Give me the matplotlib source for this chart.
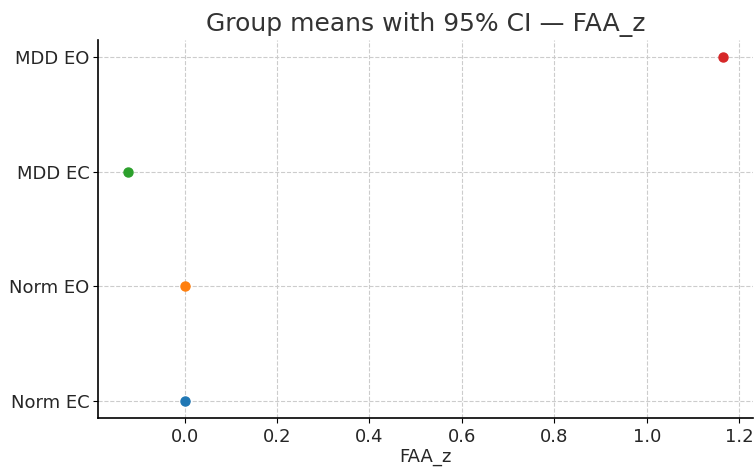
import matplotlib
matplotlib.use("Agg")
import matplotlib.pyplot as plt

# group means of FAA_z (CI half-widths are ~0, nothing visible)
groups = ["Norm EC", "Norm EO", "MDD EC", "MDD EO"]
means = [0.0, 0.0, -0.123, 1.166]
ci_half = [0.0, 0.0, 0.0, 0.0]
colors = ["#1f77b4", "#ff7f0e", "#2ca02c", "#d62728"]

txt = "#262626"

fig = plt.figure(figsize=(7.54, 4.68), dpi=100)
ax = fig.add_axes([0.130, 0.107, 0.869, 0.808])

for i, (g, m, c) in enumerate(zip(groups, means, colors)):
    ax.errorbar(m, i, xerr=ci_half[i], fmt="o", color=c, markersize=6.5,
                capsize=0, elinewidth=0)

ax.set_yticks(range(len(groups)))
ax.set_yticklabels(groups)
ax.set_xlabel("FAA_z", fontsize=13, labelpad=2, color=txt)
ax.set_title("Group means with 95% CI — FAA_z", fontsize=18, pad=6, color="#333333")
ax.tick_params(labelsize=13, length=3.5, labelcolor=txt)
ax.tick_params(axis="y", pad=2.5)
ax.grid(True, linestyle="--", color="#cccccc", linewidth=0.8)
ax.set_axisbelow(True)
ax.spines["top"].set_visible(False)
ax.spines["right"].set_visible(False)
ax.spines["left"].set_linewidth(1.2)
ax.spines["bottom"].set_linewidth(1.2)

fig.savefig("out.png", dpi=100)
